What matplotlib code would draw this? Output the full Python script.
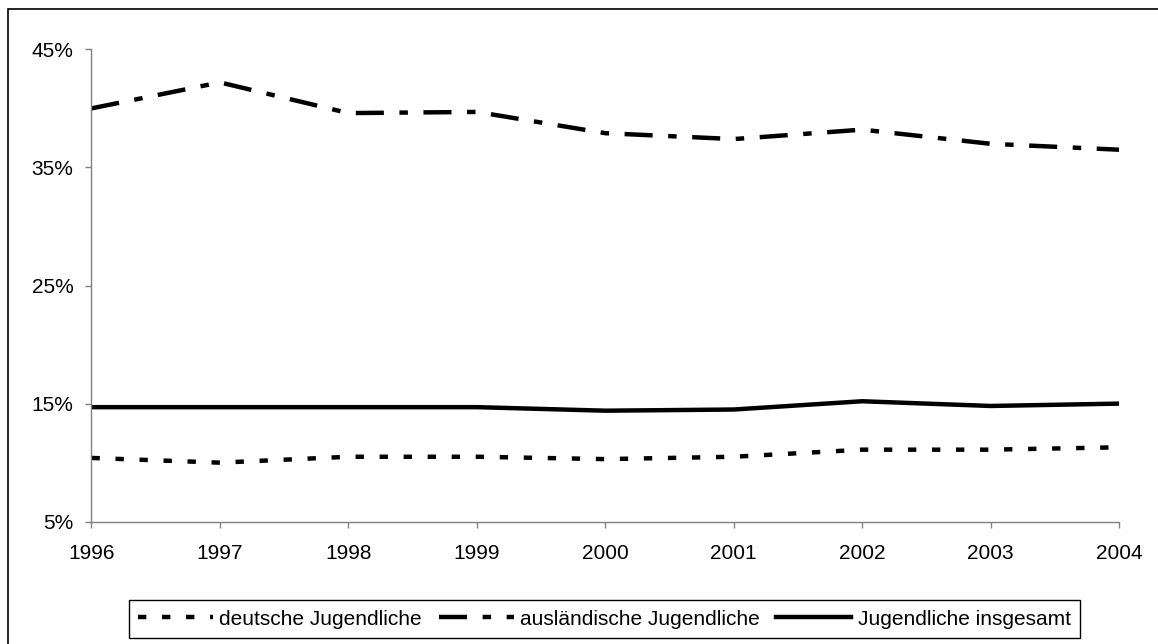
import matplotlib
matplotlib.use("Agg")
import matplotlib.pyplot as plt
from matplotlib.patches import Rectangle

plt.rcParams['font.family'] = ['Liberation Sans', 'DejaVu Sans']
plt.rcParams['lines.scale_dashes'] = False

# data (percent)
years = [1996, 1997, 1998, 1999, 2000, 2001, 2002, 2003, 2004]
deutsche = [10.4, 10.0, 10.5, 10.5, 10.3, 10.5, 11.1, 11.1, 11.3]
auslaendische = [40.0, 42.2, 39.6, 39.7, 37.9, 37.4, 38.2, 37.0, 36.5]
insgesamt = [14.7, 14.7, 14.7, 14.7, 14.4, 14.5, 15.2, 14.8, 15.0]

labels = ['deutsche Jugendliche', 'ausländische Jugendliche', 'Jugendliche insgesamt']
y_ticks = [5, 15, 25, 35, 45]
y_tick_labels = ['5%', '15%', '25%', '35%', '45%']

fig = plt.figure(figsize=(11.58, 6.44), dpi=100)
ax = fig.add_axes([0.079, 0.1899, 0.8874, 0.7335])

lw = 3.2
ax.plot(years, deutsche, color='black', lw=lw, linestyle=(0, (6.0, 11.3)),
        dash_capstyle='butt', label=labels[0])
ax.plot(years, auslaendische, color='black', lw=lw, linestyle=(0, (20.2, 11.2, 6.1, 11.2)),
        dash_capstyle='butt', label=labels[1])
ax.plot(years, insgesamt, color='black', lw=lw, linestyle='-', label=labels[2])

ax.set_xlim(years[0], years[-1])
ax.set_ylim(y_ticks[0], y_ticks[-1])
ax.set_xticks(years)
ax.set_yticks(y_ticks)
ax.set_yticklabels(y_tick_labels)

for side in ['top', 'right']:
    ax.spines[side].set_visible(False)
for side in ['left', 'bottom']:
    ax.spines[side].set_color('#808080')
    ax.spines[side].set_linewidth(1.0)

ax.tick_params(axis='both', direction='out', length=4, width=1, color='#808080',
               labelsize=15, labelcolor='black')
ax.tick_params(axis='y', pad=9)
ax.tick_params(axis='x', pad=12)

leg = fig.legend(loc='center', bbox_to_anchor=(0.522, 0.0388), ncol=3,
                 fontsize=15, frameon=True, fancybox=False, framealpha=1,
                 edgecolor='black', handlelength=3.6, handletextpad=0.3,
                 columnspacing=0.8, borderpad=0.45)
leg.get_frame().set_linewidth(1.0)

# outer chart border (only top and left edges visible in the crop)
fig.patches.append(Rectangle((8 / 1158, -0.5), 2, (644 - 9) / 644 + 0.5, fill=False,
                             edgecolor='black', lw=1.2, transform=fig.transFigure,
                             figure=fig))

fig.savefig('out.png', dpi=100)
